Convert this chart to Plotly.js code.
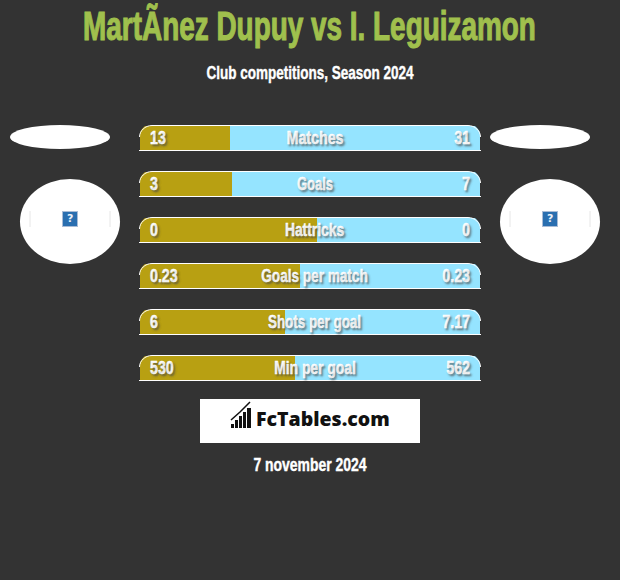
<!DOCTYPE html>
<html><head><meta charset="utf-8">
<script src="https://cdn.plot.ly/plotly-3.0.1.min.js"></script>
<style>html,body{margin:0;padding:0;background:#333}#c{width:620px;height:580px}</style>
</head><body><div id="c"></div>
<script>
const categories = ["Matches","Goals","Hattricks","Goals per match","Shots per goal","Min per goal"];
const leftLabels = ["13","3","0","0.23","6","530"];
const rightLabels = ["31","7","0","0.23","7.17","562"];
const goldShare = [26.5,27.1,52.1,47.1,42.6,45.6];
const blueShare = goldShare.map(v=>100-v);
const titleText = "MartÃ\u00ADnez Dupuy vs I. Leguizamon";
const subtitleText = "Club competitions, Season 2024";
const dateText = "7 november 2024";
const logoText = "FcTables.com";

const W=620,H=580,BG="#333333",GOLD="#B8A012",BLUE="#95E4FF";
const HEAVY='"Liberation Sans",Arimo,sans-serif';
const px=p=>p/W, py=p=>1-p/H;
const pad=(p)=>(p-140)/3.4;
const shadow="2px 2px 2px rgba(70,70,70,0.6)";
const centerSqueeze=[0.79,0.72,0.77,0.755,0.745,0.77];

const traces=[
 {type:"bar",orientation:"h",y:categories,x:goldShare,marker:{color:GOLD,line:{width:0}},width:25/46,hoverinfo:"skip"},
 {type:"bar",orientation:"h",y:categories,x:blueShare,marker:{color:BLUE,line:{width:0}},width:25/46,hoverinfo:"skip"}
];

const shapes=[];
const rect=(x0,y0,x1,y1,fill)=>({type:"rect",xref:"paper",yref:"paper",x0:px(x0),x1:px(x1),y0:py(y0),y1:py(y1),fillcolor:fill,line:{width:0},layer:"above"});
const ell=(x0,y0,x1,y1)=>({type:"circle",xref:"paper",yref:"paper",x0:px(x0),x1:px(x1),y0:py(y0),y1:py(y1),fillcolor:"#fff",line:{width:0},layer:"above"});
const pathP=(d,fill,lc,lw)=>({type:"path",xref:"paper",yref:"paper",path:d,fillcolor:fill,line:{width:lw||0,color:lc||fill},layer:"above"});
const P=(pts,close)=>"M"+pts.map(a=>px(a[0])+","+py(a[1])).join(" L")+(close?" Z":"");

categories.forEach(c=>{
  const base={type:"path",xref:"x",yref:"y",xsizemode:"pixel",ysizemode:"pixel",xanchor:0,yanchor:c,layer:"above"};
  shapes.push({...base,path:"M-1,0 C-1,8 5,14 12,14 L-1,14 Z",fillcolor:BG,line:{width:0}});
  shapes.push({...base,path:"M341,0 C341,8 335,14 328,14 L341,14 Z",fillcolor:BG,line:{width:0}});
  shapes.push({...base,path:"M-0.5,1 C-0.5,7 5,12.5 12,12.5 L328,12.5 C335,12.5 340.5,7 340.5,1",line:{color:"#fff",width:1}});
  shapes.push({...base,path:"M-1,-12.5 L341,-12.5",line:{color:"#fff",width:1}});
});

shapes.push(ell(10,125,110,149),ell(490,125,590,149),ell(20,179,120,264),ell(500,179,600,264));
[[60,219],[540,219]].forEach(([cx,cy])=>{
  shapes.push(rect(cx+2,cy-8,cx+18,cy+8,"#A9BCD6"));
  shapes.push(rect(cx+3,cy-7,cx+17,cy+7,"#2A6FB0"));
  shapes.push({type:"line",xref:"paper",yref:"paper",x0:px(cx-30),x1:px(cx-30),y0:py(cy-8),y1:py(cy+8),line:{color:"#E6E6E6",width:1},layer:"above"});
  shapes.push({type:"line",xref:"paper",yref:"paper",x0:px(cx+50),x1:px(cx+50),y0:py(cy-8),y1:py(cy+8),line:{color:"#E6E6E6",width:1},layer:"above"});
});
shapes.push(rect(200,399,420,443,"#ffffff"));
[[231,424,234,428],[235,420,238,428],[239,416,242,428],[243,412,246,428],[247,408,251,428]].forEach(b=>shapes.push(rect(b[0],b[1],b[2],b[3],"#111")));
shapes.push(pathP(P([[231,420],[240,412],[250,402]]),"rgba(0,0,0,0)","#111",1.5));

const annotations=[];
const fit=[];
const note=(x,y,text,size,color,k,sw,extra)=>{annotations.push(Object.assign({xref:"paper",yref:"paper",x:px(x),y:py(y),text,showarrow:false,xanchor:"center",yanchor:"middle",font:{family:HEAVY,size,color,weight:700}},extra||{}));fit.push({k,sw,color,side:"c"});};
note(309.5,26,titleText,40,"#A0C04D",0.698,1.1);
note(309.5,73.5,subtitleText,18,"#ffffff",0.751,0.4);
note(309.5,465,dateText,18,"#ffffff",0.775,0.4);
note(323,418,logoText,20,"#111111",1,0,{font:{family:'"Open Sans",sans-serif',size:19.5,color:"#111",weight:800}});
[[70,219],[550,219]].forEach(([x,y])=>note(x,y,"?",11,"#EAF2FA",1,0,{font:{family:"DejaVu Sans",size:11,color:"#EAF2FA",weight:700}}));
categories.forEach((c,i)=>{
  const f={family:HEAVY,size:18,color:"#fff",weight:700,shadow};
  const a=(x,text,anchor,xs,side,k)=>{annotations.push({xref:"x",yref:"y",x,y:c,text,showarrow:false,xanchor:anchor,xshift:xs,yanchor:"middle",font:f});fit.push({k,sw:0.4,color:"#fff",side});};
  a(0,leftLabels[i],"left",8,"l",0.79);
  a(50,c,"center",4.5,"c",centerSqueeze[i]);
  a(100,rightLabels[i],"right",-8,"r",0.79);
});

Plotly.newPlot("c",traces,{
  width:W,height:H,margin:{l:0,r:0,t:0,b:0},paper_bgcolor:BG,plot_bgcolor:BG,showlegend:false,
  barmode:"stack",
  xaxis:{range:[pad(0),pad(W)],visible:false,fixedrange:true},
  yaxis:{type:"category",categoryorder:"array",categoryarray:categories,range:[138/46*-1+(580/46),-138/46],visible:false,fixedrange:true},
  shapes,annotations
},{displayModeBar:false,staticPlot:true}).then(gd=>{
  gd.querySelectorAll(".annotation").forEach(g=>{
    const i=+g.getAttribute("data-index"), f=fit[i], t=g.querySelector(".annotation-text");
    if(!f||!t) return;
    const b=t.getBBox();
    const ax=f.side==="l"?b.x:f.side==="r"?b.x+b.width:b.x+b.width/2;
    t.setAttribute("transform",`matrix(${f.k},0,0,1,${(1-f.k)*ax},0)`);
    if(f.sw){t.style.stroke=f.color;t.style.strokeWidth=f.sw+"px";}
  });
});
</script></body></html>
